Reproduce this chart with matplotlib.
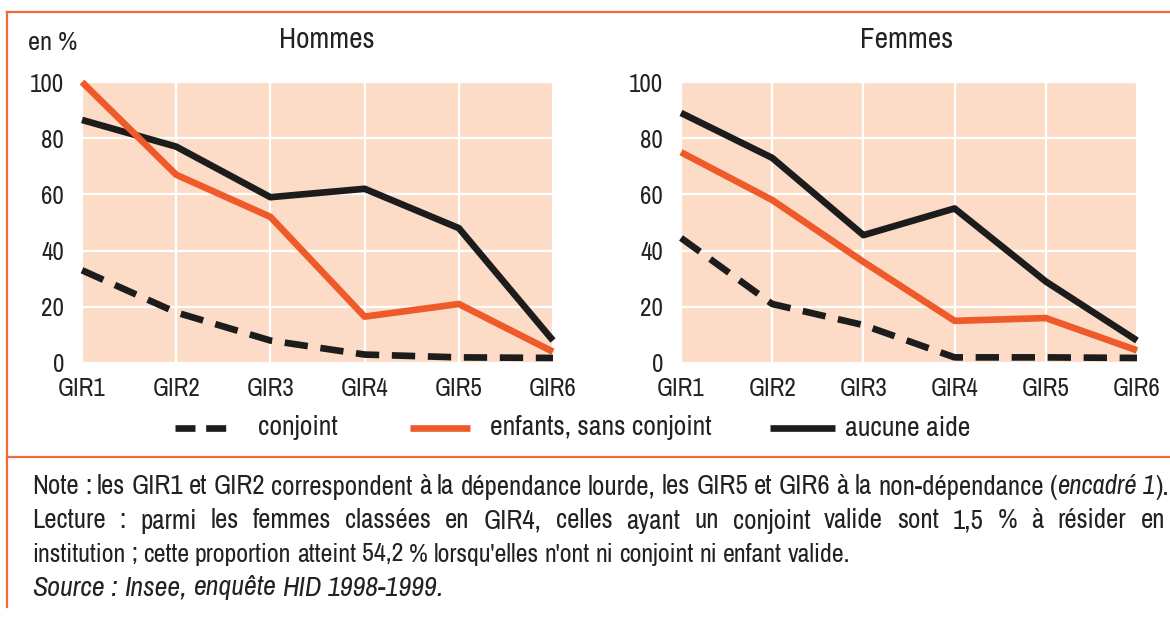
import matplotlib
matplotlib.use("Agg")
import matplotlib.pyplot as plt
from matplotlib.lines import Line2D
from matplotlib import font_manager

# ---- data ----
gir = ["GIR1", "GIR2", "GIR3", "GIR4", "GIR5", "GIR6"]
hommes_conjoint = [33, 18, 8, 3, 2, 1.8]
hommes_enfants = [100, 67, 52, 16.5, 21, 4]
hommes_aucune = [86.5, 77, 59, 62, 48, 8]
femmes_conjoint = [44.5, 21, 13.5, 2, 2, 1.8]
femmes_enfants = [75, 58, 36, 15, 16, 4.5]
femmes_aucune = [89, 73, 45.5, 55, 29, 8]
yticks = [0, 20, 40, 60, 80, 100]
legend_labels = ["conjoint", "enfants, sans conjoint", "aucune aide"]

ORANGE = "#ee5a2a"
BLACK = "#1c1c1c"
BG = "#fcdcc7"
BORDER = "#f06a3c"
TXT = "#222222"

# police etroite si disponible
names = sorted({f.name for f in font_manager.fontManager.ttflist
                if "Narrow" in f.name or "Condensed" in f.name})
narrow = names[0] if names else None
FONT = ([narrow] if narrow else []) + ["Liberation Sans", "DejaVu Sans"]
plt.rcParams["font.family"] = FONT

W, H = 1170, 618
fig = plt.figure(figsize=(W / 100, H / 100), dpi=100)
LW = 4.8


def fx(px):
    return px / W


def fy(py):
    return 1 - py / H


def panel(x0, x1, title, tx, conj, enf, auc):
    ax = fig.add_axes([fx(x0), fy(363), fx(x1) - fx(x0), fy(82) - fy(363)])
    ax.set_facecolor(BG)
    x = list(range(len(gir)))
    ax.plot(x, auc, color=BLACK, lw=LW, solid_capstyle="butt", clip_on=False, zorder=3)
    ax.plot(x, enf, color=ORANGE, lw=LW, solid_capstyle="butt", clip_on=False, zorder=4)
    ln, = ax.plot(x, conj, color=BLACK, lw=LW, clip_on=False, zorder=3)
    ln.set_dashes([3.5, 1.9])
    ln.set_dash_capstyle("butt")
    ax.set_xlim(0, 5)
    ax.set_ylim(0, 100)
    ax.set_xticks(x)
    ax.set_xticklabels(gir)
    ax.set_yticks(yticks)
    ax.tick_params(length=0, labelsize=18, colors=TXT)
    ax.tick_params(axis="y", pad=13)
    ax.tick_params(axis="x", pad=10)
    ax.grid(True, color="white", lw=1.6)
    ax.set_axisbelow(True)
    for s in ax.spines.values():
        s.set_visible(False)
    fig.text(fx(tx), fy(40), title, ha="center", va="center", fontsize=21, color=TXT)
    return ax


panel(82, 553, "Hommes", 327, hommes_conjoint, hommes_enfants, hommes_aucune)
panel(681, 1137, "Femmes", 907, femmes_conjoint, femmes_enfants, femmes_aucune)
fig.text(fx(28), fy(42), "en %", ha="left", va="center", fontsize=19, color=TXT)

# legende (placee a la main)
leg_y = fy(428)
handles = [(175, 230, BLACK, True), (410, 470, ORANGE, False), (770, 835, BLACK, False)]
text_x = [258, 490, 845]
for (a, b, c, dashed), tx, lab in zip(handles, text_x, legend_labels):
    l = Line2D([fx(a), fx(b)], [leg_y, leg_y], color=c, lw=LW, solid_capstyle="butt")
    if dashed:
        l.set_dashes([3.0, 1.6])
        l.set_dash_capstyle("butt")
    fig.add_artist(l)
    fig.text(fx(tx), leg_y, lab, ha="left", va="center", fontsize=20, color=TXT)

# cadre orange
fig.add_artist(Line2D([fx(7), 1], [fy(12), fy(12)], color=BORDER, lw=1.6))
fig.add_artist(Line2D([fx(7), 1], [fy(457), fy(457)], color=BORDER, lw=1.6))
fig.add_artist(Line2D([fx(7), fx(7)], [fy(12), fy(607)], color=BORDER, lw=1.6))

# notes
renderer = fig.canvas.get_renderer()


def tokens(parts):
    out = []
    prev_space = True
    for txt, st in parts:
        words = txt.split(" ")
        for i, w in enumerate(words):
            if w == "":
                prev_space = True
                continue
            sep = prev_space or i > 0
            out.append((w, st, sep))
            prev_space = False
        if txt.endswith(" "):
            prev_space = True
    return out


def runs(parts, x, y, fs, fit=None, justify=None):
    toks = tokens(parts)
    items = [fig.text(0, fy(y), w, fontsize=fs, style=st, color=TXT, va="center")
             for w, st, _ in toks]

    def measure():
        ws = [t.get_window_extent(renderer).width for t in items]
        a = fig.text(0, 0, "a a", fontsize=items[0].get_fontsize())
        b = fig.text(0, 0, "aa", fontsize=items[0].get_fontsize())
        sp = a.get_window_extent(renderer).width - b.get_window_extent(renderer).width
        a.remove()
        b.remove()
        return ws, sp

    ws, sp = measure()
    nsep = sum(1 for _, _, s in toks[1:] if s)
    if fit is not None:
        natural = sum(ws) + sp * nsep
        for t in items:
            t.set_fontsize(fs * fit / natural)
        ws, sp = measure()
    if justify is not None and nsep:
        sp = (justify - sum(ws)) / nsep
    cur = x
    for k, (t, w) in enumerate(zip(items, ws)):
        if k > 0 and toks[k][2]:
            cur += sp
        t.set_x(fx(cur))
        cur += w
    return items[0].get_fontsize()


fs1 = runs([("Note : les GIR1 et GIR2 correspondent à la dépendance lourde, les GIR5 et GIR6 à la non-dépendance (", "normal"),
            ("encadré 1", "italic"), (").", "normal")], 32, 487, 17, fit=1133)
runs([("Lecture : parmi les femmes classées en GIR4, celles ayant un conjoint valide sont 1,5 % à résider en", "normal")],
     32, 521, fs1, justify=1133)
runs([("institution ; cette proportion atteint 54,2 % lorsqu'elles n'ont ni conjoint ni enfant valide.", "normal")],
     32, 554, 17, fit=820)
runs([("Source : Insee, enquête HID 1998-1999.", "italic")], 32, 588, 17, fit=411)

fig.savefig("out.png", dpi=100, facecolor="white")
